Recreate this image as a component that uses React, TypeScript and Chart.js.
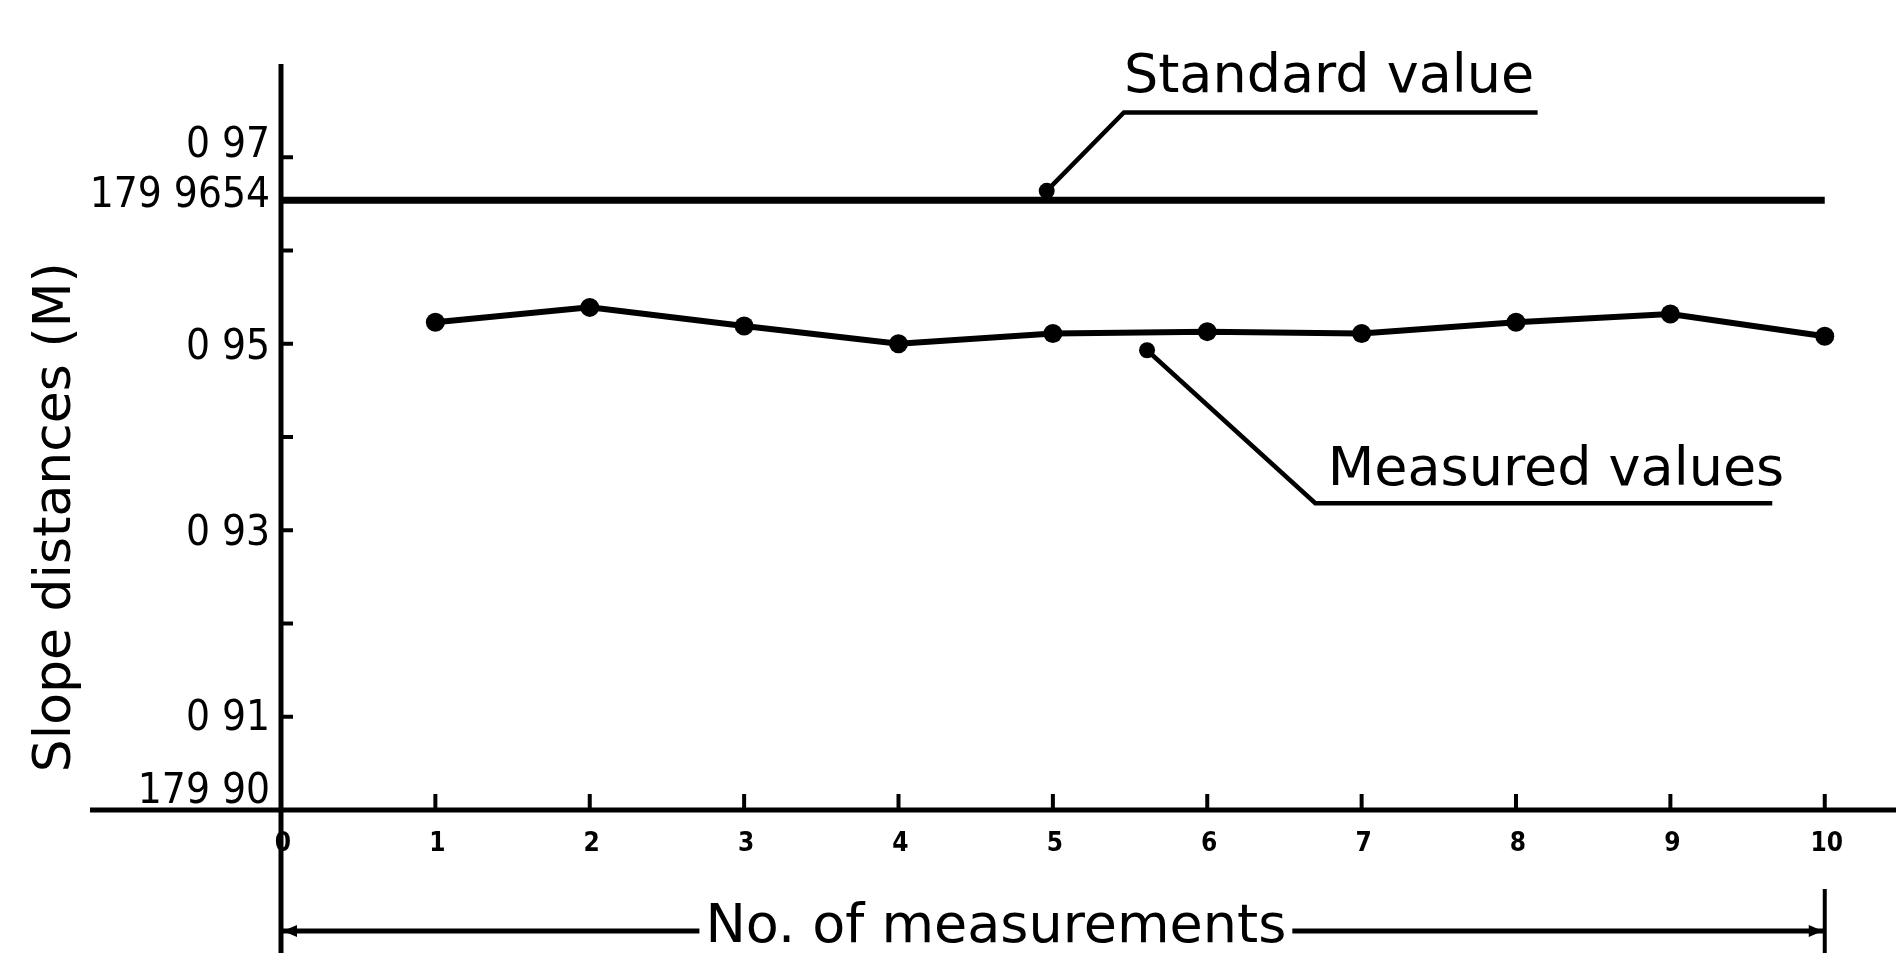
import React, { useEffect, useRef } from "react";
import { Chart, registerables } from "chart.js";

Chart.register(...registerables);

// ---- data ----
const measurementNumbers = [1, 2, 3, 4, 5, 6, 7, 8, 9, 10];
const measuredValues = [0.9523, 0.9539, 0.9519, 0.95, 0.9511, 0.9513, 0.9511, 0.9523, 0.9532, 0.9508];
const standardValue = 0.9654;
const standardSpan = [0, 10];

const yTickValues = [0.97, 0.9654, 0.95, 0.93, 0.91, 0.9];
const yTickLabels = ["0 97", "179 9654", "0 95", "0 93", "0 91", "179 90"];
const yMarkValues = [0.97, 0.96, 0.95, 0.94, 0.93, 0.92, 0.91];
const xTickValues = [0, 1, 2, 3, 4, 5, 6, 7, 8, 9, 10];
const xTickLabels = ["0", "1", "2", "3", "4", "5", "6", "7", "8", "9", "10"];

const yTitle = "Slope distances (M)";
const xTitle = "No. of measurements";
const standardLabel = "Standard value";
const measuredLabel = "Measured values";

// ---- layout / style (not data) ----
const yLabelShift = [-15, -8, 0, 0, -2, -22];
const INK = "#000";
const LABEL_FONT = '42px "DejaVu Sans Condensed", "Liberation Sans Narrow", "DejaVu Sans", sans-serif';
const ANN_FONT = '54px "DejaVu Sans", sans-serif';
const TITLE_FONT = '52px "DejaVu Sans", sans-serif';
const XTICK_FONT = 'bold 26px "DejaVu Sans Condensed", "DejaVu Sans", sans-serif';

// callout anchors in data units
const stdCallout = { dotX: 4.96, dotY: 0.9664, elbowX: 5.46, elbowY: 0.9748, endX: 8.14, textX: 5.46, textY: 0.977 };
const measCallout = { dotX: 5.61, dotY: 0.9493, elbowX: 6.7, elbowY: 0.9329, endX: 9.66, textX: 6.78, textY: 0.9349 };

const drawPlugin = {
  id: "sketchAxes",
  afterDatasetsDraw(chart: any) {
    const ctx = chart.ctx as CanvasRenderingContext2D;
    const xs = chart.scales.x;
    const ys = chart.scales.y;
    const W = chart.width;
    const H = chart.height;
    const x0 = xs.getPixelForValue(0);
    const yBase = ys.getPixelForValue(0.9);
    const yTop = ys.getPixelForValue(0.98);
    ctx.save();
    ctx.strokeStyle = INK;
    ctx.fillStyle = INK;
    ctx.lineCap = "butt";

    // y axis (extends below the x axis)
    ctx.lineWidth = 5;
    ctx.beginPath();
    ctx.moveTo(x0, yTop);
    ctx.lineTo(x0, H);
    ctx.stroke();

    // x axis
    ctx.beginPath();
    ctx.moveTo(90, yBase);
    ctx.lineTo(W, yBase);
    ctx.stroke();

    // y tick marks (inside)
    ctx.lineWidth = 4;
    for (const v of yMarkValues) {
      const py = ys.getPixelForValue(v);
      ctx.beginPath();
      ctx.moveTo(x0, py);
      ctx.lineTo(x0 + 12, py);
      ctx.stroke();
    }

    // y labels
    ctx.font = LABEL_FONT;
    ctx.textAlign = "right";
    ctx.textBaseline = "alphabetic";
    yTickValues.forEach((v, i) => {
      const py = ys.getPixelForValue(v) + yLabelShift[i];
      ctx.fillText(yTickLabels[i], x0 - 11, py + 15);
    });

    // x tick marks (up) and labels
    ctx.lineWidth = 4;
    ctx.font = XTICK_FONT;
    ctx.textAlign = "center";
    ctx.textBaseline = "middle";
    xTickValues.forEach((v, i) => {
      const px = xs.getPixelForValue(v);
      if (v > 0) {
        ctx.beginPath();
        ctx.moveTo(px, yBase);
        ctx.lineTo(px, yBase - 16);
        ctx.stroke();
      }
      ctx.fillText(xTickLabels[i], px + 2, yBase + 34);
    });

    // y title
    ctx.save();
    ctx.font = TITLE_FONT;
    ctx.translate(56, ys.getPixelForValue(0.9314));
    ctx.rotate(-Math.PI / 2);
    ctx.textAlign = "center";
    ctx.textBaseline = "middle";
    ctx.fillText(yTitle, 0, 0);
    ctx.restore();

    // x title with dimension arrow
    const x10 = xs.getPixelForValue(10);
    const yArrow = yBase + 121;
    ctx.font = ANN_FONT;
    ctx.textAlign = "center";
    ctx.textBaseline = "alphabetic";
    const mid = (x0 + x10) / 2 - 57;
    const tw = ctx.measureText(xTitle).width;
    ctx.fillText(xTitle, mid, yArrow + 11);
    ctx.lineWidth = 5;
    ctx.beginPath();
    ctx.moveTo(x0, yArrow);
    ctx.lineTo(mid - tw / 2 - 6, yArrow);
    ctx.moveTo(mid + tw / 2 + 6, yArrow);
    ctx.lineTo(x10, yArrow);
    ctx.stroke();
    // right end bar
    ctx.lineWidth = 4;
    ctx.beginPath();
    ctx.moveTo(x10, yArrow - 42);
    ctx.lineTo(x10, H);
    ctx.stroke();
    // arrowheads
    ctx.beginPath();
    ctx.moveTo(x0 + 2, yArrow);
    ctx.lineTo(x0 + 16, yArrow - 6);
    ctx.lineTo(x0 + 16, yArrow + 6);
    ctx.closePath();
    ctx.fill();
    ctx.beginPath();
    ctx.moveTo(x10 - 2, yArrow);
    ctx.lineTo(x10 - 16, yArrow - 6);
    ctx.lineTo(x10 - 16, yArrow + 6);
    ctx.closePath();
    ctx.fill();

    // callouts
    const callout = (c: any, label: string) => {
      const dx = xs.getPixelForValue(c.dotX);
      const dy = ys.getPixelForValue(c.dotY);
      const ex = xs.getPixelForValue(c.elbowX);
      const ey = ys.getPixelForValue(c.elbowY);
      const endX = xs.getPixelForValue(c.endX);
      ctx.lineWidth = 4.5;
      ctx.beginPath();
      ctx.moveTo(dx, dy);
      ctx.lineTo(ex, ey);
      ctx.lineTo(endX, ey);
      ctx.stroke();
      ctx.beginPath();
      ctx.arc(dx, dy, 8, 0, Math.PI * 2);
      ctx.fill();
      ctx.font = ANN_FONT;
      ctx.textAlign = "left";
      ctx.textBaseline = "alphabetic";
      ctx.fillText(label, xs.getPixelForValue(c.textX), ys.getPixelForValue(c.textY));
    };
    callout(stdCallout, standardLabel);
    callout(measCallout, measuredLabel);

    ctx.restore();
  },
};

export default function App() {
  const ref = useRef<HTMLCanvasElement | null>(null);
  useEffect(() => {
    if (!ref.current) return;
    const chart = new Chart(ref.current, {
      type: "line",
      data: {
        datasets: [
          {
            label: standardLabel,
            data: standardSpan.map((x) => ({ x, y: standardValue })),
            borderColor: INK,
            borderWidth: 7,
            pointRadius: 0,
          },
          {
            label: measuredLabel,
            data: measurementNumbers.map((x, i) => ({ x, y: measuredValues[i] })),
            borderColor: INK,
            backgroundColor: INK,
            borderWidth: 6,
            pointRadius: 9.5,
            pointBackgroundColor: INK,
            pointBorderWidth: 0,
            tension: 0,
          },
        ],
      },
      options: {
        animation: false,
        responsive: true,
        maintainAspectRatio: false,
        layout: { padding: { left: 281, right: 0, top: 64, bottom: 143 } },
        plugins: { legend: { display: false }, tooltip: { enabled: false }, title: { display: false } },
        events: [],
        scales: {
          x: { type: "linear", min: 0, max: 10.4, display: false },
          y: { type: "linear", min: 0.9, max: 0.98, display: false },
        },
      },
      plugins: [drawPlugin],
    });
    return () => chart.destroy();
  }, []);
  return (
    <div style={{ position: "fixed", left: 0, top: 0, width: 1896, height: 953, background: "#fff" }}>
      <canvas ref={ref} />
    </div>
  );
}
